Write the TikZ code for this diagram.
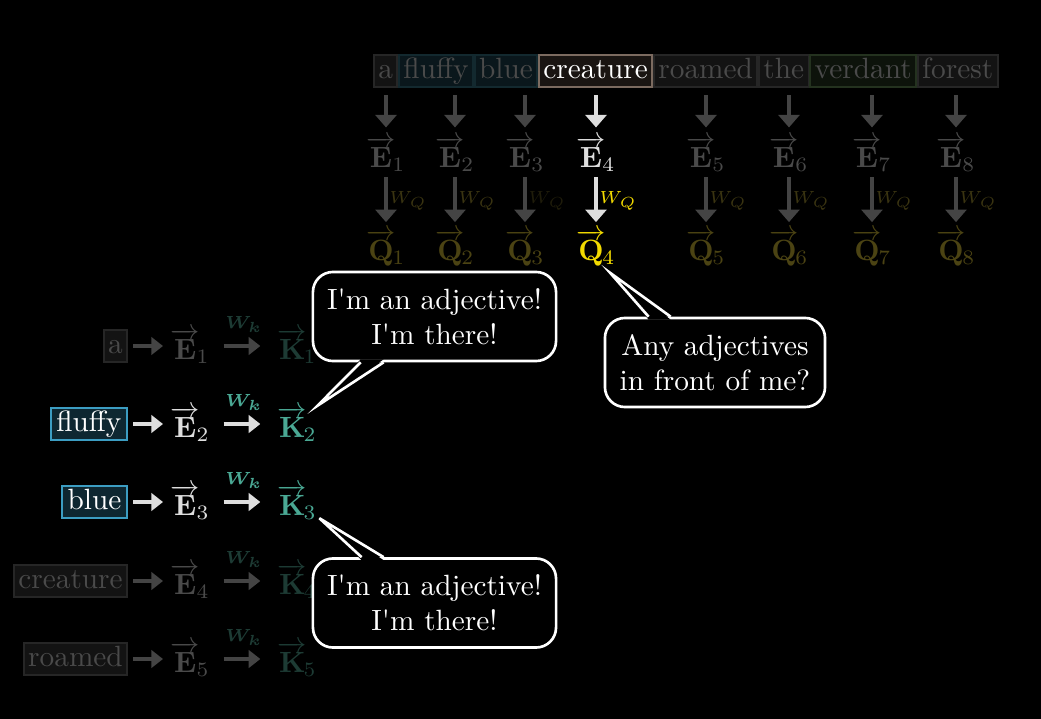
\documentclass[tikz,border=0pt]{standalone}
\usepackage{amsmath}
\usepackage{amssymb}
\usepackage{bm}
\usepackage{tikz}
\usetikzlibrary{arrows.meta,positioning,calc}
\definecolor{cDimT}{HTML}{4A4A4A}
\definecolor{cDimA}{HTML}{444444}
\definecolor{cLite}{HTML}{DEDEDE}
\definecolor{cTealT}{HTML}{4AA894}
\definecolor{cTealD}{HTML}{1D3B34}
\definecolor{cGoldT}{HTML}{F2DA00}
\definecolor{cGoldD}{HTML}{4B4313}
\definecolor{cGoldW}{HTML}{3A3411}
\definecolor{cGoldX}{HTML}{1F1C0A}
\definecolor{cSkyD}{HTML}{3C9DC2}
\definecolor{cSkyF}{HTML}{0E2731}
\definecolor{cSkyDD}{HTML}{13292F}
\definecolor{cSkyFD}{HTML}{0A171C}
\definecolor{cBrownD}{HTML}{7C6B60}
\definecolor{cBrownF}{HTML}{1A1512}
\definecolor{cMossD}{HTML}{24321F}
\definecolor{cMossF}{HTML}{0D130B}
\definecolor{cInkD}{HTML}{262626}
\definecolor{cInkF}{HTML}{131313}
\newcommand{\vv}[2]{\overrightarrow{\mathbf{#1}}\mkern-2mu{}_{#2}}
\tikzset{
  tok/.style    = {draw, line width=0.6pt, inner xsep=1.5pt, inner ysep=1pt,
                   minimum height=11pt, text height=6.9pt, text depth=1.9pt},
  dimtok/.style = {tok, draw=cInkD, fill=cInkF, text=cDimT},
  skytok/.style = {tok, draw=cSkyD, fill=cSkyF, text=white, line width=0.7pt, inner xsep=1.9pt},
  vec/.style    = {inner sep=0pt, font=\normalsize},
  dnarr/.style  = {line width=1.3pt, -{Triangle[length=0.15cm, width=0.25cm]}},
  rtarr/.style  = {line width=1.3pt, -{Triangle[length=0.14cm, width=0.21cm]}},
  wq/.style     = {font=\fontsize{6.3}{7.5}\selectfont, inner sep=0.5pt},
  wk/.style     = {font=\fontsize{6}{7}\selectfont, inner sep=0.5pt},
  bubble/.style = {draw=white, fill=black, text=white, line width=0.9pt,
                   rounded corners=0.24cm, align=center,
                   minimum width=2.916cm, minimum height=1.068cm},
  tail/.style   = {draw=white, line width=0.9pt},
}

\begin{document}
\begin{tikzpicture}[x=0.012cm, y=-0.012cm]
  \path[use as bounding box, fill=black] (0,0) rectangle (1041,719);

  \node[dimtok, anchor=west] (w1) at (373,71) {a};
  \node[tok, draw=cSkyDD, fill=cSkyFD, text=cDimT, right=0pt of w1] (w2) {fluffy};
  \node[tok, draw=cSkyDD, fill=cSkyFD, text=cDimT, right=0pt of w2] (w3) {blue};
  \node[tok, draw=cBrownD, fill=cBrownF, text=white, right=0pt of w3] (w4) {creature};
  \node[dimtok, right=0pt of w4] (w5) {roamed};
  \node[dimtok, right=0pt of w5] (w6) {the};
  \node[tok, draw=cMossD, fill=cMossF, text=cDimT, right=0pt of w6] (w7) {verdant};
  \node[dimtok, right=0pt of w7] (w8) {forest};

  \node[vec, text=cDimT] (e1) at (386,154) {$\vv{E}{1}$};
  \node[vec, text=cDimT] (e2) at (455,154) {$\vv{E}{2}$};
  \node[vec, text=cDimT] (e3) at (525,154) {$\vv{E}{3}$};
  \node[vec, text=cLite] (e4) at (596,154) {$\vv{E}{4}$};
  \node[vec, text=cDimT] (e5) at (706,154) {$\vv{E}{5}$};
  \node[vec, text=cDimT] (e6) at (789,154) {$\vv{E}{6}$};
  \node[vec, text=cDimT] (e7) at (872,154) {$\vv{E}{7}$};
  \node[vec, text=cDimT] (e8) at (956,154) {$\vv{E}{8}$};

  \node[vec, text=cGoldD] (q1) at (386,248) {$\vv{Q}{1}$};
  \node[vec, text=cGoldD] (q2) at (455,248) {$\vv{Q}{2}$};
  \node[vec, text=cGoldD] (q3) at (525,248) {$\vv{Q}{3}$};
  \node[vec, text=cGoldT] (q4) at (596,248) {$\vv{Q}{4}$};
  \node[vec, text=cGoldD] (q5) at (706,248) {$\vv{Q}{5}$};
  \node[vec, text=cGoldD] (q6) at (789,248) {$\vv{Q}{6}$};
  \node[vec, text=cGoldD] (q7) at (872,248) {$\vv{Q}{7}$};
  \node[vec, text=cGoldD] (q8) at (956,248) {$\vv{Q}{8}$};

  \draw[dnarr, cDimA, shorten <=0.084cm, shorten >=0.1cm] (e1.north |- w1.south) -- (e1.north);
  \draw[dnarr, cDimA, shorten <=0.084cm, shorten >=0.1cm] (e2.north |- w2.south) -- (e2.north);
  \draw[dnarr, cDimA, shorten <=0.084cm, shorten >=0.1cm] (e3.north |- w3.south) -- (e3.north);
  \draw[dnarr, cLite, shorten <=0.084cm, shorten >=0.1cm] (e4.north |- w4.south) -- (e4.north);
  \draw[dnarr, cDimA, shorten <=0.084cm, shorten >=0.1cm] (e5.north |- w5.south) -- (e5.north);
  \draw[dnarr, cDimA, shorten <=0.084cm, shorten >=0.1cm] (e6.north |- w6.south) -- (e6.north);
  \draw[dnarr, cDimA, shorten <=0.084cm, shorten >=0.1cm] (e7.north |- w7.south) -- (e7.north);
  \draw[dnarr, cDimA, shorten <=0.084cm, shorten >=0.1cm] (e8.north |- w8.south) -- (e8.north);

  \draw[dnarr, cDimA, shorten <=0.06cm, shorten >=0.084cm] (e1.south) -- node[wq, right, text=cGoldW] {$W_Q$} (q1.north);
  \draw[dnarr, cDimA, shorten <=0.06cm, shorten >=0.084cm] (e2.south) -- node[wq, right, text=cGoldW] {$W_Q$} (q2.north);
  \draw[dnarr, cDimA, shorten <=0.06cm, shorten >=0.084cm] (e3.south) -- node[wq, right, text=cGoldX] {$W_Q$} (q3.north);
  \draw[dnarr, cLite, shorten <=0.06cm, shorten >=0.084cm] (e4.south) -- node[wq, right, text=cGoldT] {$W_Q$} (q4.north);
  \draw[dnarr, cDimA, shorten <=0.06cm, shorten >=0.084cm] (e5.south) -- node[wq, right, text=cGoldW] {$W_Q$} (q5.north);
  \draw[dnarr, cDimA, shorten <=0.06cm, shorten >=0.084cm] (e6.south) -- node[wq, right, text=cGoldW] {$W_Q$} (q6.north);
  \draw[dnarr, cDimA, shorten <=0.06cm, shorten >=0.084cm] (e7.south) -- node[wq, right, text=cGoldW] {$W_Q$} (q7.north);
  \draw[dnarr, cDimA, shorten <=0.06cm, shorten >=0.084cm] (e8.south) -- node[wq, right, text=cGoldW] {$W_Q$} (q8.north);

  \node[dimtok, anchor=east] (a1) at (128,346) {a};
  \node[skytok, anchor=east] (a2) at (128,424) {fluffy};
  \node[skytok, anchor=east] (a3) at (128,502) {blue};
  \node[dimtok, anchor=east] (a4) at (128,581) {creature};
  \node[dimtok, anchor=east] (a5) at (128,659) {roamed};

  \node[vec, anchor=west, text=cDimT] (ea1) at (170,346) {$\vv{E}{1}$};
  \node[vec, anchor=west, text=cLite] (ea2) at (170,424) {$\vv{E}{2}$};
  \node[vec, anchor=west, text=cLite] (ea3) at (170,502) {$\vv{E}{3}$};
  \node[vec, anchor=west, text=cDimT] (ea4) at (170,581) {$\vv{E}{4}$};
  \node[vec, anchor=west, text=cDimT] (ea5) at (170,659) {$\vv{E}{5}$};

  \node[vec, anchor=west, text=cTealD] (ka1) at (277,346) {$\vv{K}{1}$};
  \node[vec, anchor=west, text=cTealT] (ka2) at (277,424) {$\vv{K}{2}$};
  \node[vec, anchor=west, text=cTealT] (ka3) at (277,502) {$\vv{K}{3}$};
  \node[vec, anchor=west, text=cTealD] (ka4) at (277,581) {$\vv{K}{4}$};
  \node[vec, anchor=west, text=cTealD] (ka5) at (277,659) {$\vv{K}{5}$};

  \draw[rtarr, cDimA, shorten <=0.06cm, shorten >=0.084cm] (a1) -- (ea1);
  \draw[rtarr, cLite, shorten <=0.06cm, shorten >=0.084cm] (a2) -- (ea2);
  \draw[rtarr, cLite, shorten <=0.06cm, shorten >=0.084cm] (a3) -- (ea3);
  \draw[rtarr, cDimA, shorten <=0.06cm, shorten >=0.084cm] (a4) -- (ea4);
  \draw[rtarr, cDimA, shorten <=0.06cm, shorten >=0.084cm] (a5) -- (ea5);

  \draw[rtarr, cDimA, shorten <=0.16cm, shorten >=0.2cm] (ea1) -- node[wk, above=0.12cm, text=cTealD] {$\bm{W_k}$} (ka1);
  \draw[rtarr, cLite, shorten <=0.16cm, shorten >=0.2cm] (ea2) -- node[wk, above=0.12cm, text=cTealT] {$\bm{W_k}$} (ka2);
  \draw[rtarr, cLite, shorten <=0.16cm, shorten >=0.2cm] (ea3) -- node[wk, above=0.12cm, text=cTealT] {$\bm{W_k}$} (ka3);
  \draw[rtarr, cDimA, shorten <=0.16cm, shorten >=0.2cm] (ea4) -- node[wk, above=0.12cm, text=cTealD] {$\bm{W_k}$} (ka4);
  \draw[rtarr, cDimA, shorten <=0.16cm, shorten >=0.2cm] (ea5) -- node[wk, above=0.12cm, text=cTealD] {$\bm{W_k}$} (ka5);

  \node[bubble] (bub1) at (434.5,316.5) {I\textquotesingle m an adjective!\\I\textquotesingle m there!};
  \fill[black] ($(bub1.south west)+(49,-3)$) -- (ka2.north east) -- ($(bub1.south west)+(72,-3)$) -- cycle;
  \draw[tail] ($(bub1.south west)+(49,0)$) -- (ka2.north east) -- ($(bub1.south west)+(72,0)$);

  \node[bubble, minimum width=2.64cm] (bub2) at (715,362.5) {Any adjectives\\in front of me?};
  \fill[black] ($(bub2.north west)+(45,3)$) -- ($(q4.south east)+(-6,6)$) -- ($(bub2.north west)+(67,3)$) -- cycle;
  \draw[tail] ($(bub2.north west)+(45,0)$) -- ($(q4.south east)+(-6,6)$) -- ($(bub2.north west)+(67,0)$);

  \node[bubble] (bub3) at (434.5,603) {I\textquotesingle m an adjective!\\I\textquotesingle m there!};
  \fill[black] ($(bub3.north west)+(50,3)$) -- ($(ka3.south east)+(2,-2)$) -- ($(bub3.north west)+(72,3)$) -- cycle;
  \draw[tail] ($(bub3.north west)+(50,0)$) -- ($(ka3.south east)+(2,-2)$) -- ($(bub3.north west)+(72,0)$);
\end{tikzpicture}
\end{document}
